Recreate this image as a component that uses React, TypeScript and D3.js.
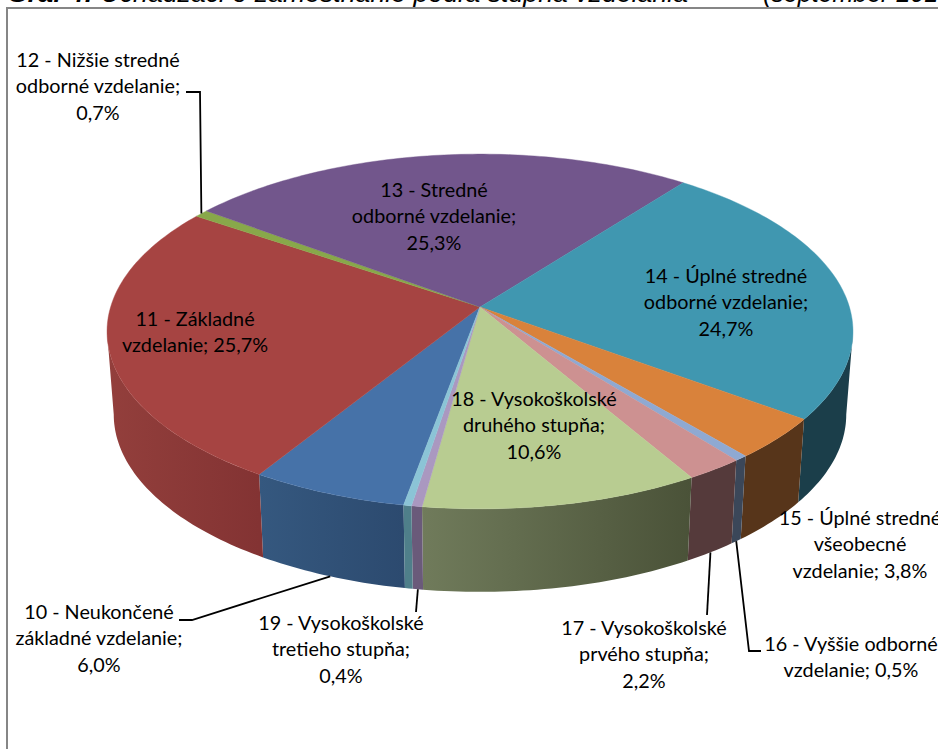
import React from 'react';
import * as d3 from 'd3';

// values; the last sliver has no label in the chart
const codes = ['10', '11', '12', '13', '14', '15', '16', '17', '18', '19', 'x'];
const shares = [6.0, 25.7, 0.7, 25.3, 24.7, 3.8, 0.5, 2.2, 10.6, 0.4, 0.3];
const labelLines = [
  ['10 - Neukončené', 'základné vzdelanie;', '6,0%'],
  ['11 - Základné', 'vzdelanie; 25,7%'],
  ['12 - Nižšie stredné', 'odborné vzdelanie;', '0,7%'],
  ['13 - Stredné', 'odborné vzdelanie;', '25,3%'],
  ['14 - Úplné stredné', 'odborné vzdelanie;', '24,7%'],
  ['15 - Úplné stredné', 'všeobecné', 'vzdelanie; 3,8%'],
  ['16 - Vyššie odborné', 'vzdelanie; 0,5%'],
  ['17 - Vysokoškolské', 'prvého stupňa;', '2,2%'],
  ['18 - Vysokoškolské', 'druhého stupňa;', '10,6%'],
  ['19 - Vysokoškolské', 'tretieho stupňa;', '0,4%'],
];

const topColors = ['#4672a8', '#a64442', '#88a84a', '#72568c', '#4097b0', '#d9823b', '#8fa9d2', '#cd9191', '#b8cc91', '#aa98c0', '#8bc4d6'];
const wallStart = ['#2c4a6f', '#833333', '#55682e', '#463558', '#1b3e4a', '#57351a', '#3b4759', '#553a3b', '#4a5238', '#6a5a7a', '#4f7f8a'];
const wallEnd = ['#35587f', '#933f3c', '#55682e', '#463558', '#1b3e4a', '#57351a', '#3b4759', '#553a3b', '#707b5b', '#6a5a7a', '#4f7f8a'];

// [centre x, first baseline] of each label
const labelPos: [number, number][] = [
  [99, 619], [195, 326], [98, 67], [434, 197], [726, 283],
  [860, 525], [851, 651], [644, 635], [534, 406], [341, 630],
];

const width = 938;
const height = 749;
const cx = 480;
const hubY = 307;
const baseY = 390;
const A = 369.4;
const B = 174;
const persp = 0.138;
const baseScale = 0.982;
const lineGap = 26.4;

const toRad = (deg: number) => (deg * Math.PI) / 180;

// circle point -> screen, with the perspective of the tilted disc
const project = (theta: number, base = false): [number, number] => {
  const u = Math.sin(theta);
  const v = -Math.cos(theta);
  const w = 1 - persp * v;
  return base
    ? [cx + (baseScale * A * u) / w, baseY + (B * v) / w]
    : [cx + (A * u) / w, hubY + (B * v) / w];
};

const arcs = d3.pie<number>().sort(null).startAngle(toRad(190.3)).endAngle(toRad(190.3 + 360))(shares);
const line = d3.line();

const samples = (a0: number, a1: number) => {
  const n = Math.max(2, Math.ceil((a1 - a0) / toRad(1)));
  return d3.range(n + 1).map(i => a0 + ((a1 - a0) * i) / n);
};

// the rim is widest here, so the wall outline runs along these two rulings
const sideRight = Math.acos(-persp);
const sideLeft = Math.PI * 2 - sideRight;

const walls = arcs.flatMap((arc, i) => {
  // angles are unwrapped past 360, so look at the same slice one turn earlier too
  return [0, Math.PI * 2].flatMap(turn => {
    const a0 = Math.max(arc.startAngle - turn, sideRight);
    const a1 = Math.min(arc.endAngle - turn, sideLeft);
    if (a1 <= a0) return [];
    const pts = samples(a0, a1);
    return [{
      id: `wall${i}`,
      i,
      x1: project(a0)[0],
      x2: project(a1)[0],
      d: line([...pts.map(a => project(a)), ...pts.slice().reverse().map(a => project(a, true))]) + 'Z',
    }];
  });
});

const faces = arcs.map(arc =>
  line([[cx, hubY], ...samples(arc.startAngle, arc.endAngle).map(a => project(a))]) + 'Z'
);

const mid = (i: number) => (arcs[i].startAngle + arcs[i].endAngle) / 2;

// leader lines: rim anchor from the projection, elbows placed by hand
const leaders: [number, number][][] = [
  [[179, 620], [192, 620], project(mid(0), true)],
  [[186, 92], [200, 92], project(mid(2))],
  [[761, 651], [749, 651], project(mid(6), true)],
  [[707, 615], project(mid(7), true)],
  [[416, 612], project(mid(9), true)],
];

export default function App() {
  return (
    <svg width={width} height={height} style={{ position: 'absolute', left: 0, top: 0 }}>
      <defs>
        {walls.map(w => (
          <linearGradient key={w.id} id={w.id} gradientUnits="userSpaceOnUse" x1={w.x1} x2={w.x2} y1={0} y2={0}>
            <stop offset="0" stopColor={wallStart[w.i]} />
            <stop offset="1" stopColor={wallEnd[w.i]} />
          </linearGradient>
        ))}
      </defs>
      <rect width={width} height={height} fill="#fff" />
      <g fontFamily="'Liberation Sans', Arial, sans-serif" fontStyle="italic" fill="#000">
        <text x={7} y={2} fontSize={26.7}>
          <tspan fontWeight="bold">Graf 4: </tspan>
          <tspan>Uchádzači o zamestnanie podľa stupňa vzdelania</tspan>
        </text>
        <text x={763} y={2} fontSize={25}>(september 2013)</text>
      </g>
      <path d={`M7,${height}V8H${width}`} fill="none" stroke="#868686" strokeWidth={2} />

      {walls.map(w => (
        <path key={w.id} d={w.d} fill={`url(#${w.id})`} />
      ))}
      {faces.map((d, i) => (
        <path key={codes[i]} d={d} fill={topColors[i]} stroke={topColors[i]} strokeWidth={0.4} />
      ))}

      {leaders.map((pts, i) => (
        <path key={i} d={line(pts) ?? ''} fill="none" stroke="#000" strokeWidth={1.8} />
      ))}

      <g fontFamily="Lato, sans-serif" fontSize={19.8} fill="#000" textAnchor="middle">
        {labelLines.map((lines, i) => (
          <text key={codes[i]}>
            {lines.map((t, k) => (
              <tspan key={k} x={labelPos[i][0]} y={labelPos[i][1] + k * lineGap}>{t}</tspan>
            ))}
          </text>
        ))}
      </g>
    </svg>
  );
}
